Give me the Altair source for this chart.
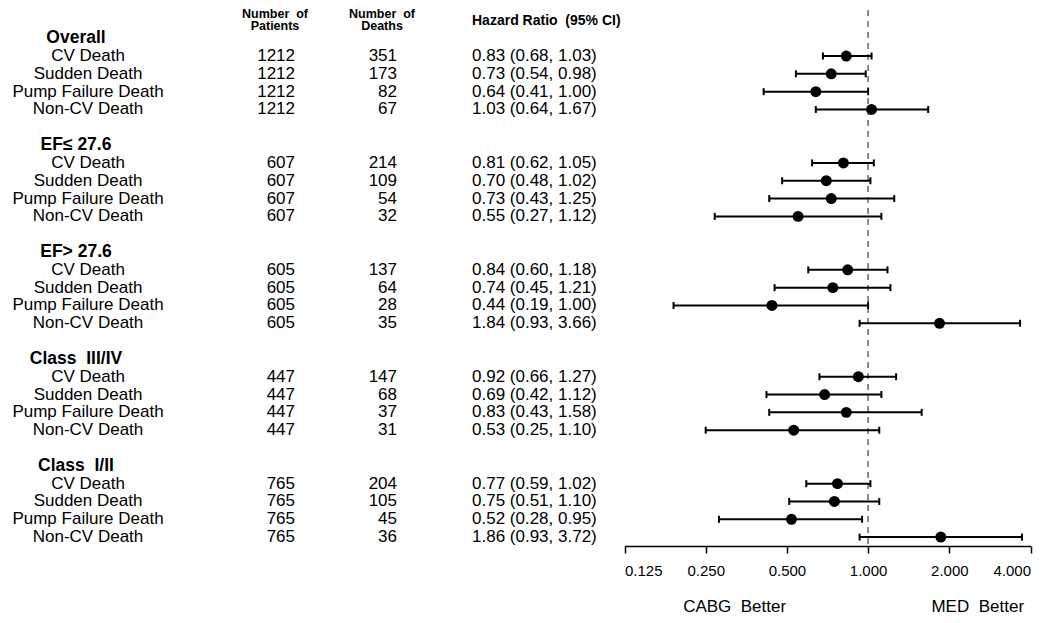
import altair as alt
import pandas as pd

groups = ["Overall", "EF\u2264 27.6", "EF> 27.6", "Class\u00a0 III/IV", "Class\u00a0 I/II"]
outcomes = ["CV Death", "Sudden Death", "Pump Failure Death", "Non-CV Death"]
patients = [1212, 607, 605, 447, 765]
deaths = [[351, 173, 82, 67], [214, 109, 54, 32], [137, 64, 28, 35],
          [147, 68, 37, 31], [204, 105, 45, 36]]
hr = [[0.83, 0.73, 0.64, 1.03], [0.81, 0.70, 0.73, 0.55], [0.84, 0.74, 0.44, 1.84],
      [0.92, 0.69, 0.83, 0.53], [0.77, 0.75, 0.52, 1.86]]
lo = [[0.68, 0.54, 0.41, 0.64], [0.62, 0.48, 0.43, 0.27], [0.60, 0.45, 0.19, 0.93],
      [0.66, 0.42, 0.43, 0.25], [0.59, 0.51, 0.28, 0.93]]
hi = [[1.03, 0.98, 1.00, 1.67], [1.05, 1.02, 1.25, 1.12], [1.18, 1.21, 1.00, 3.66],
      [1.27, 1.12, 1.58, 1.10], [1.02, 1.10, 0.95, 3.72]]
tick_values = [0.125, 0.25, 0.5, 1.0, 2.0, 4.0]

rows = []
heads = []
for g, name in enumerate(groups):
    heads.append({"row": g * 6, "label": name})
    for i, o in enumerate(outcomes):
        rows.append({
            "row": g * 6 + i + 1,
            "outcome": o,
            "patients": str(patients[g]),
            "deaths": str(deaths[g][i]),
            "hr": hr[g][i], "lo": lo[g][i], "hi": hi[g][i],
            "txt": f"{hr[g][i]:.2f} ({lo[g][i]:.2f}, {hi[g][i]:.2f})",
        })
df = pd.DataFrame(rows)
hdf = pd.DataFrame(heads)

FONT = "Liberation Sans"
PL = 613   # page x of plot left
PT = 18    # page y of plot top
yscale = alt.Scale(domain=[0, 28.5], range=[38.2 - PT, 546 - PT], zero=False, nice=False)
Y = alt.Y("row:Q", scale=yscale, axis=None)
xscale = alt.Scale(type="log", base=2, domain=[0.125, 4], range=[11.5, 417.5], nice=False)

base = alt.Chart(df)

bars = base.mark_rule(color="black", strokeWidth=2).encode(
    x=alt.X("lo:Q", scale=xscale,
            axis=alt.Axis(values=tick_values, format=".3f", title=None, grid=False,
                          domainColor="black", domainWidth=1.5, tickColor="black",
                          tickWidth=1.5, tickSize=7, labelFont=FONT, labelFontSize=15,
                          labelColor="black", labelPadding=10)),
    x2="hi:Q", y=Y)

caps_lo = base.mark_point(shape="M0,-1L0,1", size=49, stroke="black", strokeWidth=2,
                          filled=False, opacity=1).encode(x=alt.X("lo:Q", scale=xscale), y=Y)
caps_hi = base.mark_point(shape="M0,-1L0,1", size=49, stroke="black", strokeWidth=2,
                          filled=False, opacity=1).encode(x=alt.X("hi:Q", scale=xscale), y=Y)
pts = base.mark_point(shape="circle", size=120, filled=True, color="black",
                      opacity=1).encode(x=alt.X("hr:Q", scale=xscale), y=Y)

ref = alt.Chart(pd.DataFrame({"v": [1.0]})).mark_rule(
    color="#666666", strokeWidth=1.5, strokeDash=[6, 5]).encode(
    x=alt.X("v:Q", scale=xscale), y=alt.value(10 - PT), y2=alt.value(546 - PT))

FS = 17
lab = base.mark_text(font=FONT, fontSize=FS, align="center", baseline="middle",
                     color="black").encode(x=alt.value(88 - PL), y=Y, text="outcome:N")
pat = base.mark_text(font=FONT, fontSize=FS, align="right", baseline="middle",
                     color="black").encode(x=alt.value(295 - PL), y=Y, text="patients:N")
dth = base.mark_text(font=FONT, fontSize=FS, align="right", baseline="middle",
                     color="black").encode(x=alt.value(397 - PL), y=Y, text="deaths:N")
hrt = base.mark_text(font=FONT, fontSize=FS, align="left", baseline="middle",
                     color="black").encode(x=alt.value(472 - PL), y=Y, text="txt:N")
hd = alt.Chart(hdf).mark_text(font=FONT, fontSize=17.5, fontWeight="bold", align="center",
                              baseline="middle", color="black").encode(
    x=alt.value(76 - PL), y=Y, text="label:N")

ch1 = alt.Chart(pd.DataFrame({"t": ["Number\u00a0 of\nPatients"]})).mark_text(
    font=FONT, fontSize=12.5, fontWeight="bold", align="center", baseline="top",
    lineBreak="\n", lineHeight=12, color="black").encode(
    x=alt.value(275 - PL), y=alt.value(8 - PT), text="t:N")
ch2 = alt.Chart(pd.DataFrame({"t": ["Number\u00a0 of\nDeaths"]})).mark_text(
    font=FONT, fontSize=12.5, fontWeight="bold", align="center", baseline="top",
    lineBreak="\n", lineHeight=12, color="black").encode(
    x=alt.value(382 - PL), y=alt.value(8 - PT), text="t:N")
ch3 = alt.Chart(pd.DataFrame({"t": ["Hazard Ratio\u00a0 (95% CI)"]})).mark_text(
    font=FONT, fontSize=14, fontWeight="bold", align="left", baseline="middle",
    color="black").encode(x=alt.value(472 - PL), y=alt.value(21 - PT), text="t:N")

foot = alt.Chart(pd.DataFrame({"t": ["CABG\u00a0 Better", "MED\u00a0 Better"],
                               "v": [0.32, 2.55]})).mark_text(
    font=FONT, fontSize=17, align="center", baseline="middle", color="black").encode(
    x=alt.X("v:Q", scale=xscale), y=alt.value(607 - PT), text="t:N")

chart = alt.layer(ref, bars, caps_lo, caps_hi, pts, lab, pat, dth, hrt, hd,
                  ch1, ch2, ch3, foot).properties(
    width=429, height=546 - PT,
    autosize=alt.AutoSizeParams(type="none"),
    padding={"left": PL - 8, "top": PT - 8, "right": 0, "bottom": 69},
).configure_view(stroke=None)

chart.save("out.html", embed_options={"renderer": "svg", "actions": False})
